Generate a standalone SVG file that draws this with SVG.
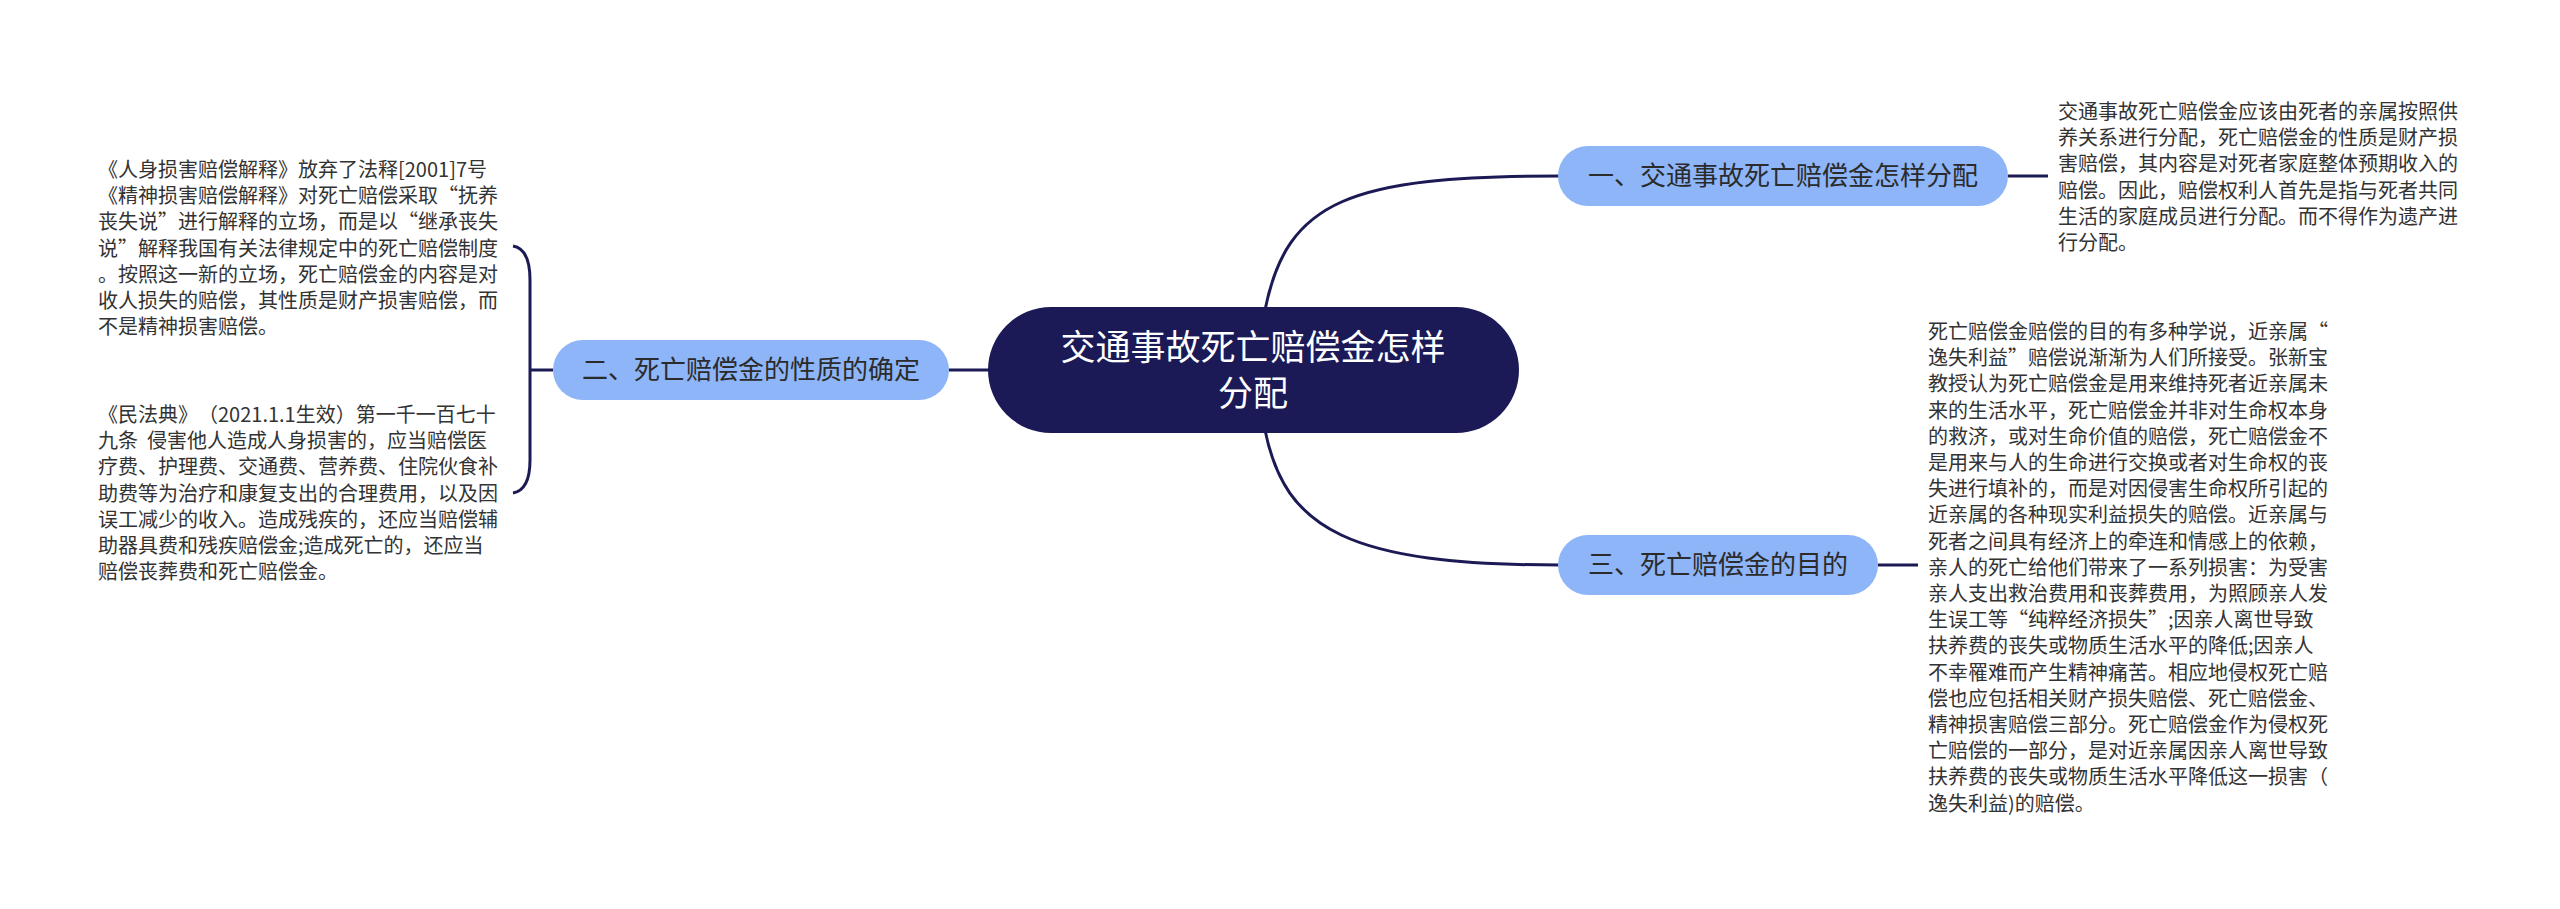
<svg xmlns="http://www.w3.org/2000/svg" width="2560" height="909" viewBox="0 0 2560 909">
<style>
.bg{fill:#ffffff}
.conn{fill:none;stroke:#1b1a55;stroke-width:3}
.root{fill:#1b1a57}
.sub{fill:#8db5f8}
.rt{font-family:"Noto Sans CJK SC","Noto Sans",sans-serif;font-size:35px;fill:#ffffff;text-anchor:middle}
.st{font-family:"Noto Sans CJK SC","Noto Sans",sans-serif;font-size:26px;fill:#2b2b2b;text-anchor:middle}
.bt{font-family:"Noto Sans CJK SC","Noto Sans",sans-serif;font-size:20px;fill:#333333;white-space:pre;text-spacing-trim:space-all}
</style>
<rect class="bg" x="0" y="0" width="2560" height="909"/>
<g id="connectors">
<path class="conn" d="M1265,310 C1287,200 1350,176 1560,176"/>
<path class="conn" d="M1265,430 C1285,530 1350,565 1560,565"/>
<path class="conn" d="M949,370 L990,370"/>
<path class="conn" d="M2008,176 L2048,176"/>
<path class="conn" d="M1878,565 L1918,565"/>
<path class="conn" d="M553,370 L530,370"/>
<path class="conn" d="M513,246 Q530,249 530,280 L530,460 Q530,490 513,493"/>
</g>
<g id="root">
<rect class="root" x="988" y="307" width="531" height="126" rx="63" ry="63"/>
<text class="rt" x="1253" y="360">交通事故死亡赔偿金怎样</text>
<text class="rt" x="1253" y="406">分配</text>
</g>
<g id="node1">
<rect class="sub" x="1558" y="146" width="450" height="60" rx="30" ry="30"/>
<text class="st" x="1783" y="185">一、交通事故死亡赔偿金怎样分配</text>
</g>
<g id="node2">
<rect class="sub" x="553" y="340" width="396" height="60" rx="30" ry="30"/>
<text class="st" x="751" y="379">二、死亡赔偿金的性质的确定</text>
</g>
<g id="node3">
<rect class="sub" x="1558" y="535" width="320" height="60" rx="30" ry="30"/>
<text class="st" x="1718" y="574">三、死亡赔偿金的目的</text>
</g>
<g id="text1">
<text class="bt" x="2058" y="119">交通事故死亡赔偿金应该由死者的亲属按照供</text>
<text class="bt" x="2058" y="145.2">养关系进行分配，死亡赔偿金的性质是财产损</text>
<text class="bt" x="2058" y="171.4">害赔偿，其内容是对死者家庭整体预期收入的</text>
<text class="bt" x="2058" y="197.6">赔偿。因此，赔偿权利人首先是指与死者共同</text>
<text class="bt" x="2058" y="223.8">生活的家庭成员进行分配。而不得作为遗产进</text>
<text class="bt" x="2058" y="250">行分配。</text>
</g>
<g id="text2a">
<text class="bt" x="98" y="177">《人身损害赔偿解释》放弃了法释[2001]7号</text>
<text class="bt" x="98" y="203.2">《精神损害赔偿解释》对死亡赔偿采取“抚养</text>
<text class="bt" x="98" y="229.4">丧失说”进行解释的立场，而是以“继承丧失</text>
<text class="bt" x="98" y="255.6">说”解释我国有关法律规定中的死亡赔偿制度</text>
<text class="bt" x="98" y="281.8">。按照这一新的立场，死亡赔偿金的内容是对</text>
<text class="bt" x="98" y="308">收人损失的赔偿，其性质是财产损害赔偿，而</text>
<text class="bt" x="98" y="334.2">不是精神损害赔偿。</text>
</g>
<g id="text2b">
<text class="bt" x="98" y="422">《民法典》（2021.1.1生效）第一千一百七十</text>
<text class="bt" x="98" y="448.2">九条  侵害他人造成人身损害的，应当赔偿医</text>
<text class="bt" x="98" y="474.4">疗费、护理费、交通费、营养费、住院伙食补</text>
<text class="bt" x="98" y="500.6">助费等为治疗和康复支出的合理费用，以及因</text>
<text class="bt" x="98" y="526.8">误工减少的收入。造成残疾的，还应当赔偿辅</text>
<text class="bt" x="98" y="553">助器具费和残疾赔偿金;造成死亡的，还应当</text>
<text class="bt" x="98" y="579.2">赔偿丧葬费和死亡赔偿金。</text>
</g>
<g id="text3">
<text class="bt" x="1928" y="339">死亡赔偿金赔偿的目的有多种学说，近亲属“</text>
<text class="bt" x="1928" y="365.2">逸失利益”赔偿说渐渐为人们所接受。张新宝</text>
<text class="bt" x="1928" y="391.4">教授认为死亡赔偿金是用来维持死者近亲属未</text>
<text class="bt" x="1928" y="417.6">来的生活水平，死亡赔偿金并非对生命权本身</text>
<text class="bt" x="1928" y="443.8">的救济，或对生命价值的赔偿，死亡赔偿金不</text>
<text class="bt" x="1928" y="470">是用来与人的生命进行交换或者对生命权的丧</text>
<text class="bt" x="1928" y="496.2">失进行填补的，而是对因侵害生命权所引起的</text>
<text class="bt" x="1928" y="522.4">近亲属的各种现实利益损失的赔偿。近亲属与</text>
<text class="bt" x="1928" y="548.6">死者之间具有经济上的牵连和情感上的依赖，</text>
<text class="bt" x="1928" y="574.8">亲人的死亡给他们带来了一系列损害：为受害</text>
<text class="bt" x="1928" y="601">亲人支出救治费用和丧葬费用，为照顾亲人发</text>
<text class="bt" x="1928" y="627.2">生误工等“纯粹经济损失”;因亲人离世导致</text>
<text class="bt" x="1928" y="653.4">扶养费的丧失或物质生活水平的降低;因亲人</text>
<text class="bt" x="1928" y="679.6">不幸罹难而产生精神痛苦。相应地侵权死亡赔</text>
<text class="bt" x="1928" y="705.8">偿也应包括相关财产损失赔偿、死亡赔偿金、</text>
<text class="bt" x="1928" y="732">精神损害赔偿三部分。死亡赔偿金作为侵权死</text>
<text class="bt" x="1928" y="758.2">亡赔偿的一部分，是对近亲属因亲人离世导致</text>
<text class="bt" x="1928" y="784.4">扶养费的丧失或物质生活水平降低这一损害（</text>
<text class="bt" x="1928" y="810.6">逸失利益)的赔偿。</text>
</g>
</svg>
